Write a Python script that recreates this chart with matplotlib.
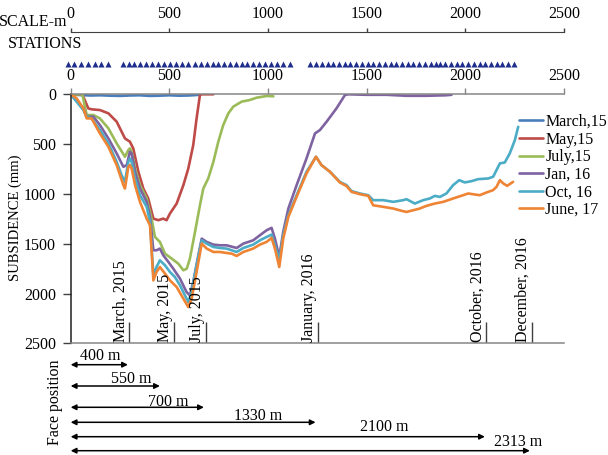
import numpy as np
import matplotlib.pyplot as plt

plt.rcParams['font.family'] = ['Liberation Serif', 'DejaVu Serif']
plt.rcParams['font.size'] = 11.5

# subsidence profiles (distance m, subsidence mm)
march_x = [0, 50, 100, 150, 200, 250, 300, 350, 400, 450, 500, 550, 600, 655]
march_y = [0, 8, 12, 10, 14, 16, 12, 10, 16, 14, 10, 14, 12, 5]

may_x = [0, 59, 89, 106, 148, 191, 233, 275, 300, 317, 343, 368, 393, 419, 444, 469,
         486, 503, 537, 571, 596, 621, 638, 655, 664, 723]
may_y = [0, 0, 141, 151, 158, 191, 275, 443, 476, 543, 778, 946, 1046, 1248, 1264, 1248,
         1264, 1197, 1097, 912, 745, 510, 242, 7, 0, 0]

july_x = [0, 59, 81, 115, 148, 191, 233, 275, 292, 300, 309, 326, 351, 385, 410, 427,
          452, 478, 512, 545, 571, 588, 604, 630, 655, 672, 697, 723, 748, 773, 799,
          824, 866, 908, 942, 993, 1027]
july_y = [0, 0, 208, 208, 242, 342, 493, 627, 560, 543, 577, 745, 912, 1046, 1248, 1432,
          1482, 1600, 1650, 1700, 1767, 1751, 1650, 1382, 1114, 946, 845, 678, 476, 309, 191,
          124, 74, 57, 34, 17, 20]

jan_x = [0, 64, 81, 115, 148, 191, 233, 267, 284, 300, 309, 326, 351, 385, 402, 419, 435,
         452, 469, 495, 520, 554, 587, 604, 621, 647, 664, 689, 723, 756, 790, 841, 875,
         925, 959, 993, 1018, 1035, 1057, 1077, 1103, 1145, 1195, 1238, 1263, 1297, 1347,
         1390, 1407, 1500, 1600, 1700, 1800, 1900, 1930]
jan_y = [0, 141, 225, 225, 309, 443, 594, 728, 711, 577, 594, 778, 946, 1080, 1231, 1566, 1566,
         1549, 1616, 1683, 1751, 1851, 1985, 2019, 1885, 1616, 1449, 1482, 1509, 1516, 1516, 1543, 1499,
         1466, 1415, 1365, 1341, 1449, 1633, 1382, 1147, 912, 644, 393, 359, 275, 141,
         7, 0, 5, 5, 15, 15, 10, 5]

oct_x = [0, 64, 81, 106, 148, 191, 233, 258, 275, 292, 300, 309, 326, 351, 385, 402, 419,
         435, 452, 478, 503, 528, 554, 579, 596, 613, 638, 664, 689, 723, 756, 790, 816,
         841, 875, 925, 959, 993, 1018, 1035, 1057, 1077, 1103, 1145, 1195, 1243, 1271,
         1314, 1364, 1398, 1423, 1466, 1508, 1533, 1584, 1635, 1685, 1702, 1744, 1786,
         1820, 1845, 1871, 1904, 1938, 1969, 1997, 2031, 2065, 2116, 2141, 2158, 2175,
         2200, 2225, 2251, 2268]
oct_y = [0, 158, 225, 242, 359, 493, 678, 812, 879, 678, 644, 678, 845, 1013, 1130, 1281, 1817,
         1734, 1667, 1717, 1784, 1834, 1918, 2019, 2086, 1985, 1717, 1466, 1499, 1533, 1543, 1549, 1566,
         1583, 1543, 1509, 1466, 1432, 1409, 1516, 1667, 1415, 1214, 1013, 778, 627, 711,
         778, 879, 912, 972, 996, 1013, 1063, 1063, 1080, 1063, 1053, 1097, 1063,
         1046, 1020, 1030, 996, 912, 862, 885, 872, 852, 845, 828, 761, 694,
         684, 594, 460, 326]

june_x = [0, 30, 64, 81, 106, 148, 191, 233, 267, 275, 292, 300, 309, 326, 351, 385, 402,
          419, 435, 452, 478, 503, 537, 571, 596, 613, 638, 664, 689, 723, 756, 790, 816,
          841, 875, 925, 959, 993, 1018, 1035, 1057, 1077, 1103, 1145, 1195, 1243, 1271,
          1314, 1364, 1398, 1423, 1466, 1508, 1533, 1584, 1635, 1685, 1702, 1736, 1769,
          1803, 1845, 1888, 1938, 1989, 2014, 2073, 2107, 2141, 2158, 2175, 2192, 2212, 2242]
june_y = [0, 40, 141, 242, 242, 393, 527, 711, 912, 946, 728, 711, 745, 912, 1080, 1248, 1315,
          1868, 1784, 1734, 1801, 1868, 1935, 2052, 2136, 2052, 1784, 1499, 1549, 1583, 1583, 1593, 1600,
          1623, 1583, 1549, 1509, 1482, 1442, 1549, 1734, 1449, 1231, 1029, 795, 627, 711,
          778, 885, 922, 979, 1003, 1020, 1114, 1130, 1147, 1174, 1181, 1164, 1147,
          1120, 1097, 1080, 1046, 1013, 996, 1013, 986, 962, 929, 862, 895, 919, 879]

series_labels = ['March,15', 'May,15', 'July,15', 'Jan, 16', 'Oct, 16', 'June, 17']
series_colors = ['#4A7EBB', '#BE4B48', '#9BBB59', '#7F63A1', '#4BACC6', '#EE8434']

# monitoring stations along the profile (m)
stations = [-15, 19, 53, 88, 122, 156, 190,
            263, 293, 323, 353, 383, 413, 443, 473, 503, 533, 563, 593,
            630, 660, 689, 719, 748, 778, 808, 837, 867, 896, 926, 956, 985, 1015, 1044, 1074,
            1111,
            1215, 1244, 1273, 1302, 1331, 1360, 1389, 1418, 1447, 1476, 1505, 1534, 1563,
            1592, 1621, 1650, 1679, 1708, 1737, 1766, 1795, 1824, 1853, 1872, 1898, 1927,
            1956, 1985, 2014, 2043, 2072, 2101, 2130, 2159, 2188, 2217, 2246]

# dates of the face positions
date_labels = ['March, 2015', 'May, 2015', 'July, 2015', 'January, 2016',
               'October, 2016', 'December, 2016']
date_pos = [297, 523, 685, 1251, 2107, 2338]

# face advance arrows
face_labels = ['400 m', '550 m', '700 m', '1330 m', '2100 m', '2313 m']
face_end = [290, 452, 675, 1241, 2099, 2327]
face_text_x = [152, 308, 493, 948, 1591, 2270]

W, H = 608, 455


def rect(x0, y0, x1, y1):
    return [x0 / W, 1 - y1 / H, (x1 - x0) / W, (y1 - y0) / H]


fig = plt.figure(figsize=(W / 100, H / 100), dpi=100)

# main chart
ax = fig.add_axes(rect(70.7, 94.3, 564, 343.3))
xs = [march_x, may_x, july_x, jan_x, oct_x, june_x]
ys = [march_y, may_y, july_y, jan_y, oct_y, june_y]
for x, y, lab, c in zip(xs, ys, series_labels, series_colors):
    ax.plot(x, y, color=c, lw=1.9, label=lab, solid_capstyle='round')

ax.set_xlim(0, 2500)
ax.set_ylim(2500, 0)
ax.set_xticks(np.arange(0, 2501, 500))
ax.set_yticks(np.arange(0, 2501, 500))
ax.xaxis.set_ticks_position('top')
ax.tick_params(axis='x', direction='out', length=4, width=1, color='#868686', pad=3.5)
ax.tick_params(axis='y', direction='out', length=5.5, width=1, color='#404040', pad=5)
ax.spines['right'].set_visible(False)
ax.spines['top'].set_color('#868686')
ax.spines['bottom'].set_color('#868686')
ax.spines['left'].set_color('#202020')
for s in ['top', 'bottom', 'left']:
    ax.spines[s].set_linewidth(1.1)

ax.vlines(date_pos, 2290, 2500, color='#404040', lw=1)
for lab, xp in zip(date_labels, date_pos):
    ax.text(xp - 5, 2485, lab, rotation=90, ha='right', va='bottom')

fig.text(15 / W, 1 - 218 / H, 'SUBSIDENCE (mm)', rotation=90, ha='center', va='center',
         fontsize=10.5)

fig.legend(loc='upper left', bbox_to_anchor=(519 / W, 1 - 114 / H), frameon=False,
           borderpad=0, borderaxespad=0, handlelength=1.5, handletextpad=0.15,
           labelspacing=0.1)

# top scale bar
ax_s = fig.add_axes(rect(70.7, 31.8, 564, 32.3))
ax_s.set_xlim(0, 2500)
ax_s.set_yticks([])
ax_s.set_xticks(np.arange(0, 2501, 500))
ax_s.xaxis.set_ticks_position('top')
ax_s.tick_params(axis='x', direction='out', length=3, width=1, color='#404040', pad=4)
for s in ['top', 'left', 'right']:
    ax_s.spines[s].set_visible(False)
ax_s.spines['bottom'].set_color('#404040')
fig.text(67 / W, 1 - 22 / H, 'SCALE-m', ha='right', va='center')
fig.text(7.7 / W, 1 - 44 / H, 'STATIONS', ha='left', va='center')

# stations
ax_t = fig.add_axes(rect(70.7, 58, 564, 69))
ax_t.set_xlim(0, 2500)
ax_t.set_ylim(0, 1)
ax_t.plot(stations, np.zeros(len(stations)) + 0.5, '^', color='#1F2E8C', ms=4.5,
          mec='none', clip_on=False)
ax_t.axis('off')

# face positions
ax_f = fig.add_axes(rect(70.7, 348, 564, 455))
ax_f.set_xlim(0, 2500)
ax_f.set_ylim(455, 348)
ax_f.axis('off')
arrow_rows = [364.7, 386, 407.3, 422.3, 436.7, 450.7]
text_rows = [360, 383, 406, 420, 431, 446]
for lab, xe, xt, ra, rt in zip(face_labels, face_end, face_text_x, arrow_rows, text_rows):
    ax_f.annotate('', xy=(xe, ra), xytext=(0, ra), annotation_clip=False,
                  arrowprops=dict(arrowstyle='<|-|>', color='black', lw=1.1,
                                  mutation_scale=8, shrinkA=0, shrinkB=0))
    ax_f.text(xt, rt, lab, ha='center', va='baseline', clip_on=False)
fig.text(54.7 / W, 1 - 402 / H, 'Face position', rotation=90, ha='center', va='center')

fig.savefig('out.png', dpi=100)
